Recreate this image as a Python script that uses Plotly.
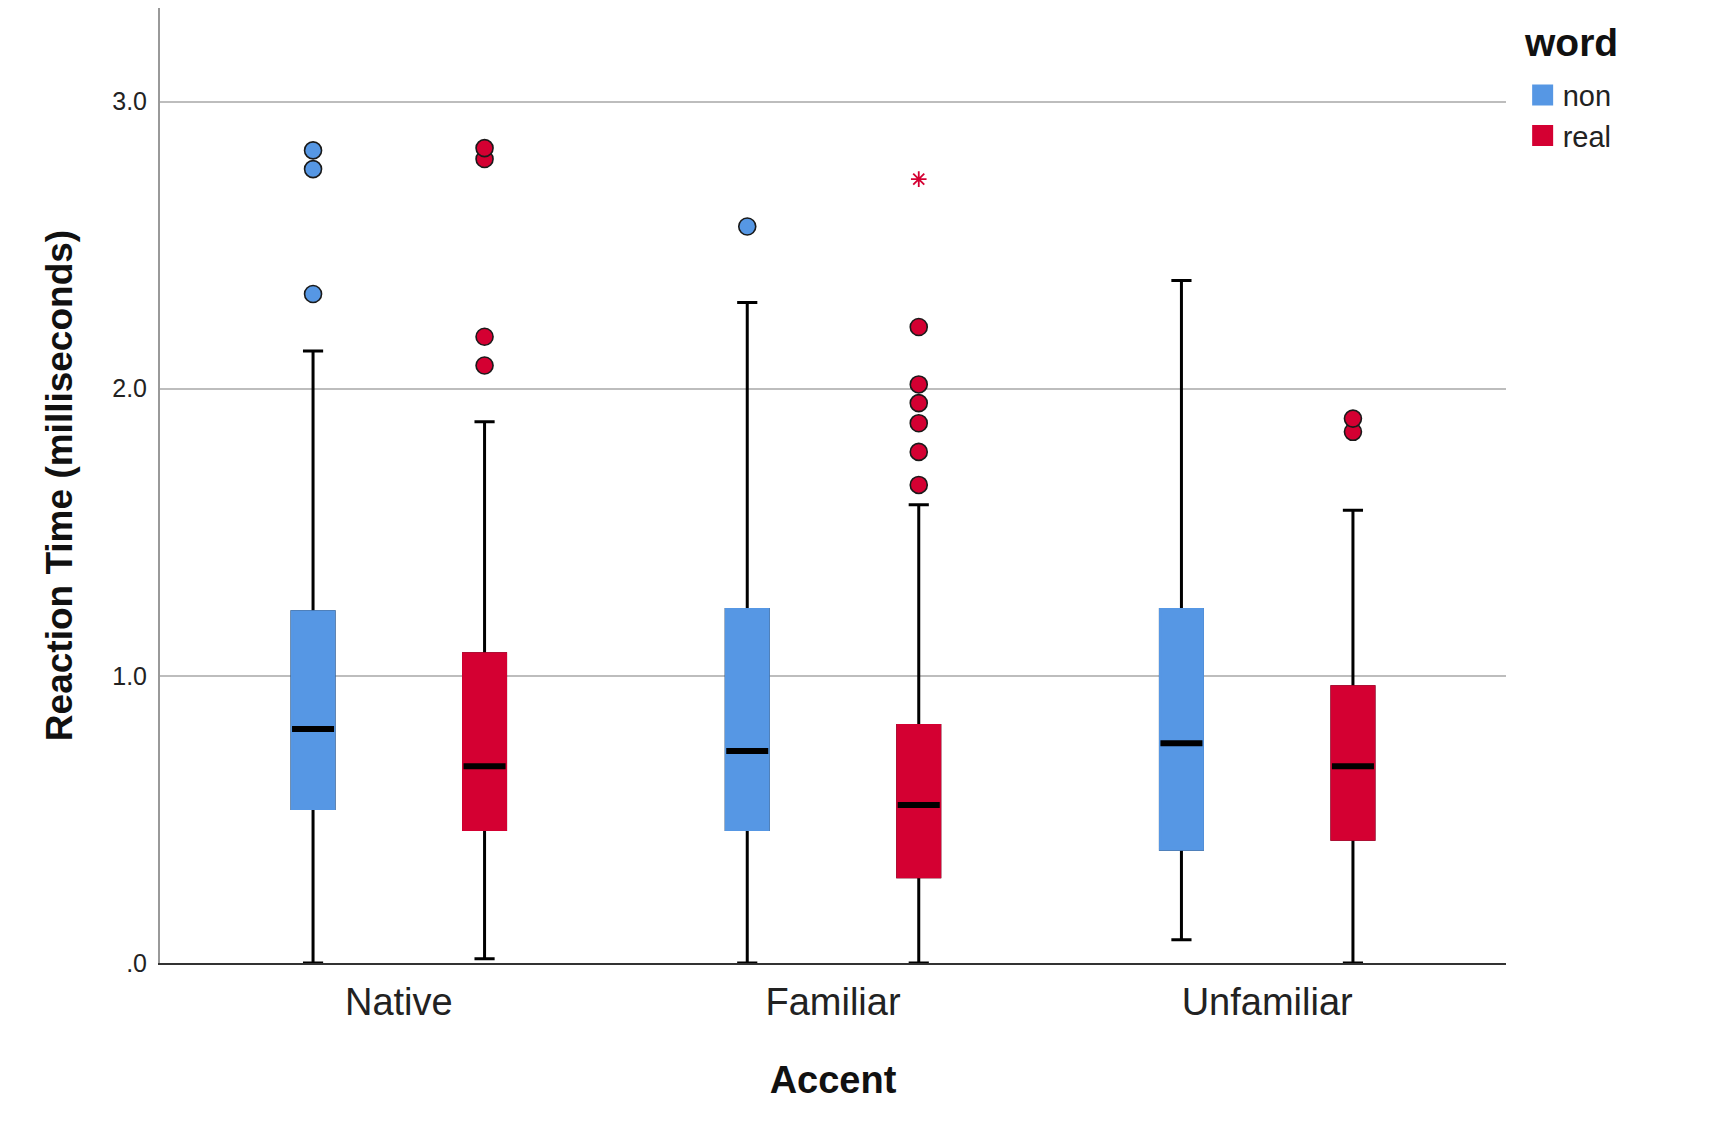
import plotly.graph_objects as go

accents = ["Native", "Familiar", "Unfamiliar"]
words = ["non", "real"]
colors = {"non": "#5697E4", "real": "#D40032"}
legend_title = "word"

# Box statistics
non_q1 = [0.538, 0.465, 0.396]
non_med = [0.815, 0.738, 0.765]
non_q3 = [1.223, 1.231, 1.231]
non_lo = [0.0, 0.0, 0.081]
non_hi = [2.131, 2.300, 2.377]
non_out = [[2.83, 2.765, 2.33], [2.565], []]
non_ext = [[], [], []]

real_q1 = [0.465, 0.300, 0.431]
real_med = [0.685, 0.550, 0.685]
real_q3 = [1.077, 0.827, 0.962]
real_lo = [0.015, 0.0, 0.0]
real_hi = [1.885, 1.596, 1.577]
real_out = [[2.838, 2.80, 2.181, 2.081],
            [2.215, 2.015, 1.95, 1.88, 1.78, 1.665],
            [1.896, 1.85]]
real_ext = [[], [2.73], []]

y_ticks = [0, 1, 2, 3]
y_ticktext = [".0", "1.0", "2.0", "3.0"]

stats = {
    "non": dict(q1=non_q1, med=non_med, q3=non_q3, lo=non_lo, hi=non_hi, out=non_out, ext=non_ext),
    "real": dict(q1=real_q1, med=real_med, q3=real_q3, lo=real_lo, hi=real_hi, out=real_out, ext=real_ext),
}

FONT = "Liberation Sans, Arial, sans-serif"
WW = 0.48


def subset(s, key):
    """Keep only the categories that have points for `key`."""
    idx = [i for i, pts in enumerate(s[key]) if len(pts) > 0]
    return dict(
        x=[accents[i] for i in idx],
        y=[s[key][i] for i in idx],
        q1=[s["q1"][i] for i in idx],
        median=[s["med"][i] for i in idx],
        q3=[s["q3"][i] for i in idx],
        lowerfence=[s["lo"][i] for i in idx],
        upperfence=[s["hi"][i] for i in idx],
    )


fig = go.Figure()
for w in words:
    s = stats[w]
    c = colors[w]
    common = dict(offsetgroup=w, alignmentgroup="all", showlegend=False,
                  hoverinfo="skip", whiskerwidth=WW)
    # A: whiskers (black)
    fig.add_trace(go.Box(x=accents, q1=s["q1"], median=s["med"], q3=s["q3"],
                         lowerfence=s["lo"], upperfence=s["hi"],
                         fillcolor=c, line=dict(color="black", width=3),
                         boxpoints=False, **common))
    # B: coloured box covering the outline
    fig.add_trace(go.Box(x=accents, q1=s["q1"], median=s["q1"], q3=s["q3"],
                         lowerfence=s["q1"], upperfence=s["q3"],
                         fillcolor=c, line=dict(color=c, width=3),
                         boxpoints=False, **common))
    # C: median line
    fig.add_trace(go.Box(x=accents, q1=s["med"], median=s["med"], q3=s["med"],
                         lowerfence=s["med"], upperfence=s["med"],
                         fillcolor="black", line=dict(color="black", width=6),
                         boxpoints=False, **common))
    # D: outliers (circles)
    sub = subset(s, "out")
    if sub["x"]:
        fig.add_trace(go.Box(**sub,
                             fillcolor="rgba(0,0,0,0)", line=dict(color="rgba(0,0,0,0)", width=0),
                             boxpoints="outliers", jitter=0, pointpos=0,
                             marker=dict(color=c, size=17, line=dict(color="#1a1a1a", width=1.6)),
                             **common))
    # E: extremes (asterisks)
    sub = subset(s, "ext")
    if sub["x"]:
        fig.add_trace(go.Box(**sub,
                             fillcolor="rgba(0,0,0,0)", line=dict(color="rgba(0,0,0,0)", width=0),
                             boxpoints="outliers", jitter=0, pointpos=0,
                             marker=dict(color=c, symbol="asterisk-open", size=13,
                                         line=dict(color=c, width=1.8)),
                             **common))

for w in words:
    c = colors[w]
    fig.add_trace(go.Scatter(x=[None], y=[None], mode="markers", name=w,
                             marker=dict(symbol="square", size=16, color=c,
                                         line=dict(color=c, width=5))))

fig.update_layout(
    width=1734, height=1129,
    margin=dict(l=152, r=236, t=0, b=174),
    plot_bgcolor="white", paper_bgcolor="white",
    boxmode="group", boxgap=0.21, boxgroupgap=0.755,
    font=dict(family=FONT, color="#222222"),
    showlegend=True,
    legend=dict(
        xref="container", yref="container", x=0.8735, y=0.9455,
        xanchor="left", yanchor="top",
        font=dict(size=29, color="#222222"),
        bgcolor="rgba(0,0,0,0)", tracegroupgap=0,
    ),
    annotations=[dict(
        text="<b>" + legend_title + "</b>", xref="paper", yref="paper",
        x=1.0116, y=0.9638, xanchor="left", yanchor="middle", showarrow=False,
        font=dict(size=39, color="#111111", family=FONT),
    )],
    xaxis=dict(
        type="category", categoryorder="array", categoryarray=accents,
        range=[-0.55, 2.55],
        showline=True, linecolor="#333333", linewidth=1.5,
        showgrid=False, zeroline=False, ticks="", ticklabelstandoff=5,
        tickfont=dict(size=38, color="#222222"),
        title=dict(text="<b>Accent</b>", font=dict(size=38, color="#111111"), standoff=44),
        automargin=False,
    ),
    yaxis=dict(
        range=[0, 3.326],
        tickvals=y_ticks, ticktext=y_ticktext,
        tickfont=dict(size=25, color="#222222"),
        showgrid=True, gridcolor="#BDBDBD", gridwidth=1.5,
        showline=True, linecolor="#999999", linewidth=2,
        zeroline=False, ticks="", ticklabelstandoff=6,
        title=dict(text="<b>Reaction Time (milliseconds)</b>",
                   font=dict(size=37, color="#111111"), standoff=28),
        automargin=False,
    ),
)

fig.write_html("out.html")
